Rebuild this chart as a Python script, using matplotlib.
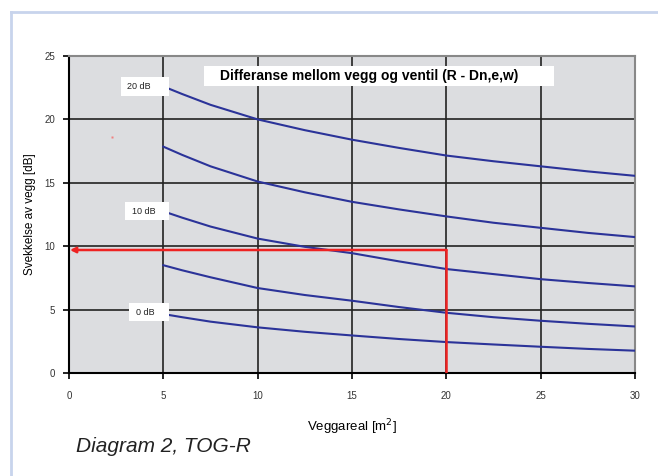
import matplotlib.pyplot as plt
from matplotlib.lines import Line2D
from matplotlib.patches import Rectangle

plt.rcParams['font.family'] = ['Liberation Sans', 'DejaVu Sans']

# areal (m2) og svekkelse (dB) for hver differanse
areal = [5, 6, 7.5, 10, 12.5, 15, 17.5, 20, 22.5, 25, 27.5, 30]
curves = [
    [22.6, 22.0, 21.15, 20.0, 19.15, 18.4, 17.75, 17.15, 16.7, 16.3, 15.9, 15.55],
    [17.85, 17.2, 16.3, 15.1, 14.25, 13.5, 12.9, 12.35, 11.85, 11.45, 11.05, 10.72],
    [12.75, 12.25, 11.55, 10.6, 9.95, 9.45, 8.8, 8.2, 7.8, 7.4, 7.1, 6.83],
    [8.5, 8.1, 7.55, 6.7, 6.15, 5.7, 5.2, 4.75, 4.4, 4.12, 3.88, 3.67],
    [4.65, 4.4, 4.05, 3.6, 3.25, 2.96, 2.68, 2.44, 2.25, 2.07, 1.9, 1.76],
]
labels = ["20 dB", "10 dB", "0 dB"]
label_y = [22.6, 12.75, 4.8]
read_x = 20
read_y = 9.7

fig = plt.figure(figsize=(6.58, 4.76), dpi=100)
ax = fig.add_axes([69/658, 1-373/476, 566/658, 317/476])
ax.set_facecolor('#dcdde0')

for c in curves:
    ax.plot(areal, c, color='#2b3399', lw=1.5, zorder=3)

ax.set_xlim(0, 30)
ax.set_ylim(0, 25)
ax.set_xticks(range(0, 31, 5))
ax.set_yticks(range(0, 26, 5))
ax.grid(True, color='#222222', lw=1.2)
ax.set_axisbelow(True)
ax.tick_params(labelsize=7, length=4, width=1.2, direction='out')
ax.tick_params(axis='x', pad=9)
ax.tick_params(axis='y', pad=6)
for lab in ax.get_xticklabels() + ax.get_yticklabels():
    lab.set_color('#333333')
for s in ['left', 'bottom']:
    ax.spines[s].set_color('black')
    ax.spines[s].set_linewidth(1.5)
for s in ['top', 'right']:
    ax.spines[s].set_color('#888888')
    ax.spines[s].set_linewidth(1.5)

ax.set_xlabel('Veggareal [m$^2$]', fontsize=9.5, labelpad=12)
ax.set_ylabel('Svekkelse av vegg [dB]', fontsize=8.5, labelpad=6)

# avlesing
ax.plot([read_x, read_x], [0, read_y], color='#ee2222', lw=1.8, zorder=4)
ax.annotate('', xy=(0.05, read_y), xytext=(read_x, read_y),
            arrowprops=dict(arrowstyle='-|>', color='#ee2222', lw=1.8,
                            mutation_scale=8, shrinkA=0, shrinkB=0), zorder=4)

# etiketter i hvite bokser
box_left = [2.74, 2.96, 3.17]
for lab, y, x0 in zip(labels, label_y, box_left):
    ax.add_patch(Rectangle((x0, y - 0.72), 5.28 - x0, 1.44, facecolor='white',
                           edgecolor='none', zorder=5))
    ax.text(x0 + 0.36, y, lab, fontsize=6.5, ha='left', va='center', color='#222222', zorder=6)

ax.add_patch(Rectangle((7.14, 22.6), 25.69 - 7.14, 1.6, facecolor='white',
                       edgecolor='none', zorder=5))
ax.text(15.93, 23.4, 'Differanse mellom vegg og ventil (R - Dn,e,w)', fontsize=10,
        fontweight='bold', ha='center', va='center', zorder=6)

ax.plot([2.26], [18.6], marker='s', ms=1.5, color='#f08080', mec='none')

fig.text(76/658, 1-447/476, 'Diagram 2, TOG-R', fontsize=15, style='italic',
         color='#222222', va='center')

fig.add_artist(Line2D([11/658, 11/658], [0, 1-12/476], color='#c8d4ec', lw=2))
fig.add_artist(Line2D([11/658, 1], [1-12/476, 1-12/476], color='#c8d4ec', lw=2))

fig.savefig('out.png', dpi=100)
